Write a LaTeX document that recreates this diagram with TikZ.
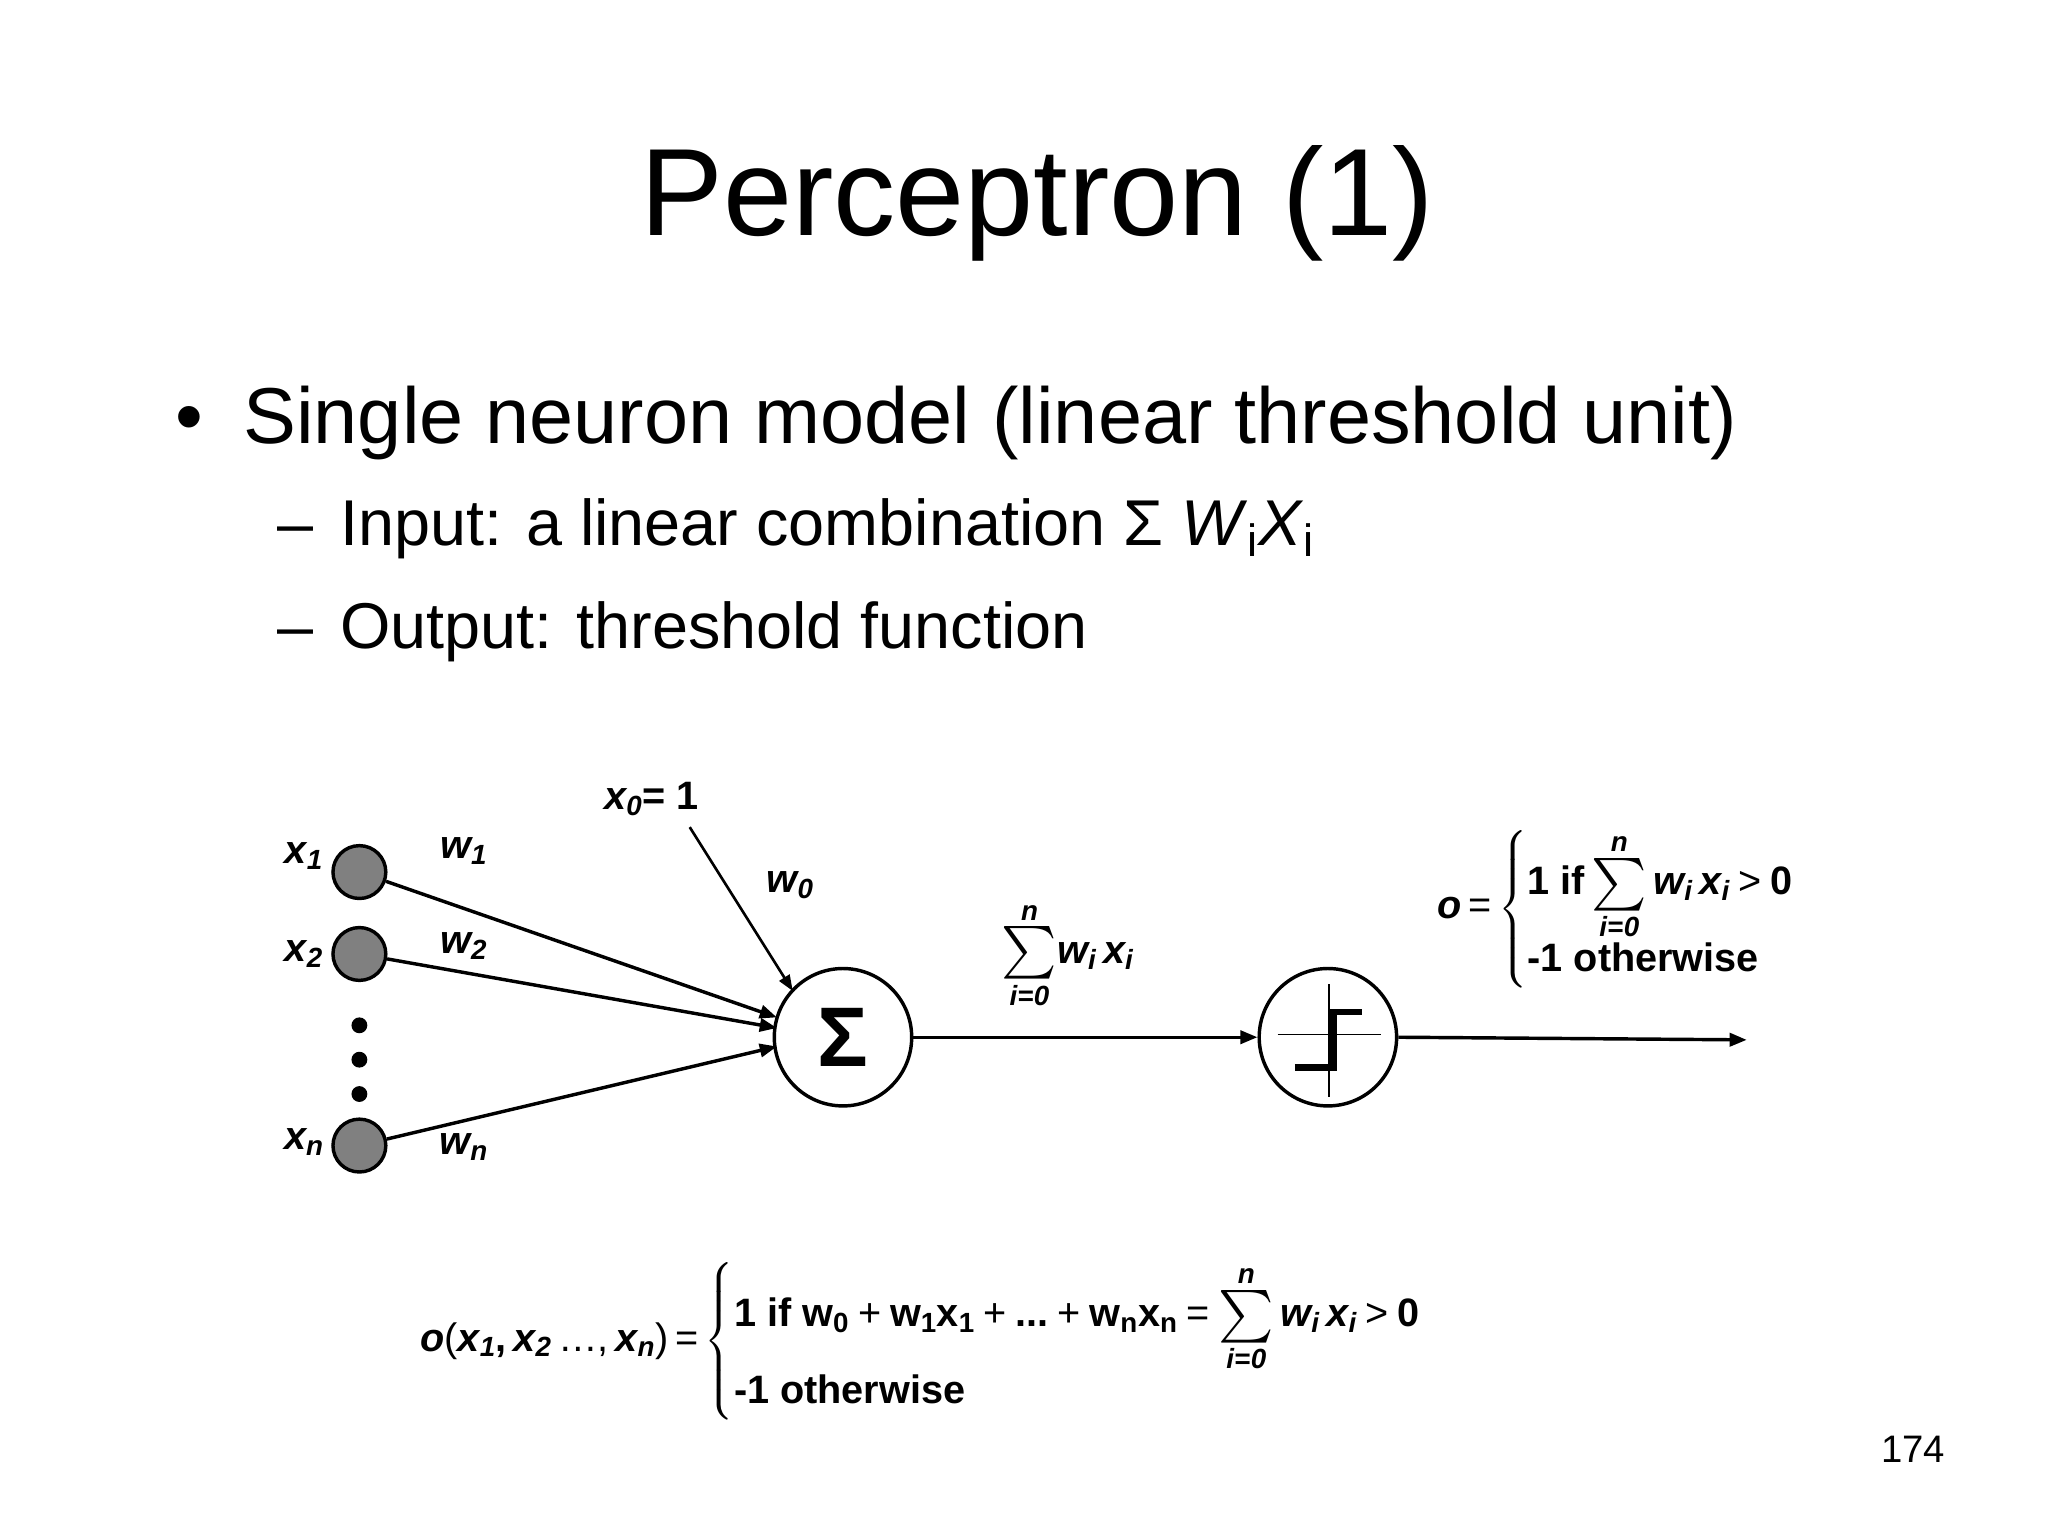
\RequirePackage{fix-cm}
\documentclass[tikz,border=0pt]{standalone}
\usepackage{amsmath}
\usepackage{graphicx}
\usepackage{fontspec}
\setmainfont{Liberation Sans}
\usetikzlibrary{arrows.meta}
\newcommand{\bim}[1]{\textbf{\textit{#1}}}
\newcommand{\bsum}{\mathop{\vcenter{\hbox{\scalebox{1.6}{$\sum$}}}}\limits_{\text{\fontsize{21}{22}\selectfont\bim{i}=\bim{0}}}^{\text{\fontsize{21}{22}\selectfont\bim{n}}}}
\newcommand{\op}[1]{\mathbin{\text{\mdseries #1}}}
\begin{document}
\begin{tikzpicture}[x=1pt,y=-1pt,
  conn/.style={line width=2.6pt,-{Triangle[length=13pt,width=10pt]}},
  inp/.style={circle,draw,line width=2.6pt,fill=black!50,minimum size=40pt,inner sep=0pt},
  unit/.style={circle,draw,line width=2.6pt,minimum size=104pt,inner sep=0pt},
  dot/.style={circle,fill=black,minimum size=12pt,inner sep=0pt},
  lab/.style={font=\fontsize{30}{34}\selectfont\bfseries\itshape,inner sep=0pt},
  frm/.style={font=\fontsize{30}{34}\selectfont\bfseries,inner sep=0pt}]
\useasboundingbox (0,0) rectangle (1550,1162);
\node[anchor=base,font=\fontsize{94}{110}\selectfont] (title) at (785,178) {Perceptron (1)};
\node[anchor=base west,font=\fontsize{60}{70}\selectfont,inner sep=0pt] (b1) at (133,336) {\textbullet\hspace{30pt}Single neuron model (linear threshold unit)};
\node[anchor=base west,font=\fontsize{49}{60}\selectfont,inner sep=0pt] (b2) at (210,413) {–\hspace{20pt}Input: a linear combination Σ \textit{W}\textsubscript{i}\textit{X}\textsubscript{i}};
\node[anchor=base west,font=\fontsize{49}{60}\selectfont,inner sep=0pt] (b3) at (210,491) {–\hspace{20pt}Output: threshold function};

\node[inp] (x1) at (272,660) {};
\node[inp] (x2) at (272,722) {};
\node[inp] (xn) at (272,867) {};
\node[dot] (d1) at (272,776) {};
\node[dot] (d2) at (272,802) {};
\node[dot] (d3) at (272,828) {};
\node[lab] (lx1) at (230,648) {x\textsubscript{1}};
\node[lab] (lx2) at (230,722) {x\textsubscript{2}};
\node[lab] (lxn) at (230,864) {x\textsubscript{n}};
\node[lab] (lw1) at (351,644) {w\textsubscript{1}};
\node[lab] (lw2) at (351,716) {w\textsubscript{2}};
\node[lab] (lwn) at (351,868) {w\textsubscript{n}};
\node[lab] (lw0) at (598,670) {w\textsubscript{0}};
\node[lab] (lx0) at (493,605) {x\textsubscript{0}\textup{= 1}};
\coordinate (x0e) at (522,626);

\node[unit] (sum) at (638,785) {\fontsize{64}{64}\selectfont\bfseries Σ};
\node[unit] (thr) at (1005,785) {};
\draw[line width=1.2pt] (967,783) -- (1045,783);
\draw[line width=1.2pt] (1006,745) -- (1006,830);
\draw[line width=5pt] (980,808) -- (1009,808) -- (1009,766) -- (1031,766);
\coordinate (oute) at (1322,787);

\draw[conn] (x1) -- (588,770);
\draw[conn] (x2) -- (588,778);
\draw[conn] (xn) -- (588,792);
\draw[line width=2pt,-{Triangle[length=12pt,width=9pt]}] (x0e) -- (600,750);
\draw[conn] (sum) -- (thr);
\draw[conn] (thr.east) -- (oute);

\node[frm] (sl) at (808,723) {$\bsum$\bim{w\textsubscript{i}\,x\textsubscript{i}}};
\node[frm,anchor=west] (of) at (1088,688) {\bim{o}\,\textmd{=}\,$\left\{\begin{array}{@{}l@{}}\text{1 if}\bsum\text{\bim{w\textsubscript{i}\,x\textsubscript{i}}}\op{>}\text{0}\\[12pt] \text{-1 otherwise}\end{array}\right.$};

\node[frm,anchor=west] (bf) at (318,1015) {\bim{o}\textmd{(}\bim{x\textsubscript{1}},\,\bim{x\textsubscript{2}}\,\textmd{…,}\,\bim{x\textsubscript{n}}\textmd{)}\,\textmd{=}\,$\left\{\begin{array}{@{}l@{}}\text{1 if w\textsubscript{0}}\op{+}\text{w\textsubscript{1}x\textsubscript{1}}\op{+}\text{...}\op{+}\text{w\textsubscript{n}x\textsubscript{n}}\op{=}\bsum\text{\bim{w\textsubscript{i}\,x\textsubscript{i}}}\op{>}\text{0}\\[22pt] \text{-1 otherwise}\end{array}\right.$};

\node[font=\fontsize{29}{34}\selectfont] (pg) at (1448,1097) {174};
\end{tikzpicture}
\end{document}
